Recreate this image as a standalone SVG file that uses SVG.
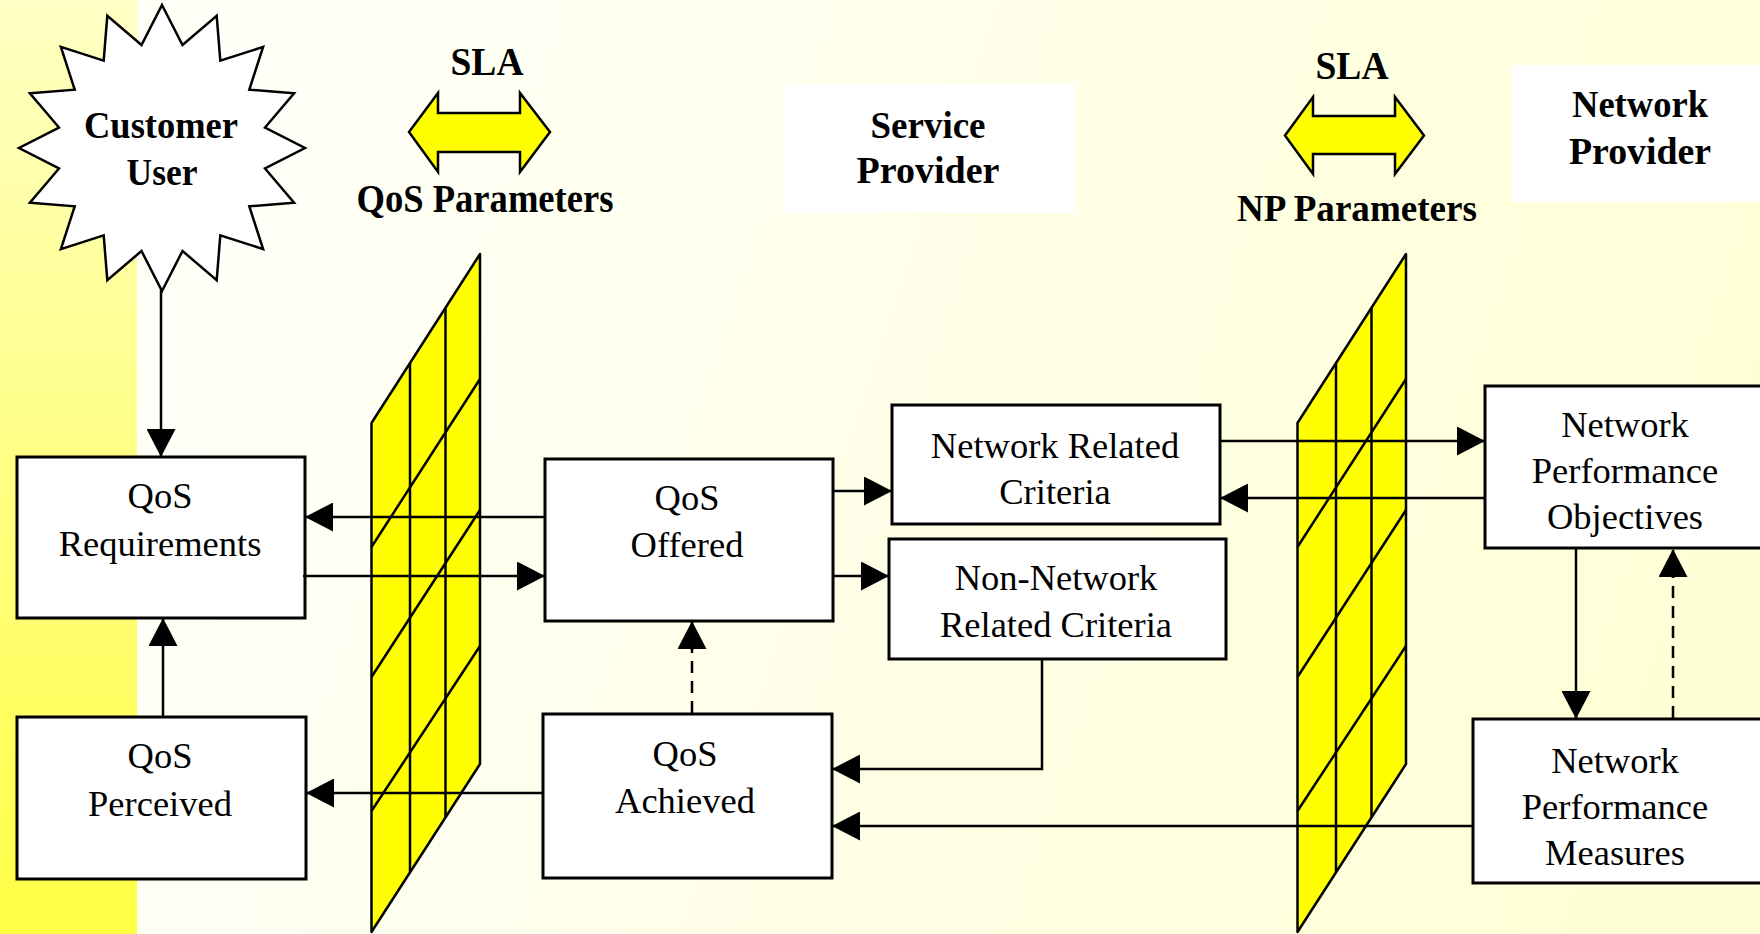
<svg xmlns="http://www.w3.org/2000/svg" width="1760" height="934" viewBox="0 0 1760 934">
<defs>
<linearGradient id="bg" gradientUnits="userSpaceOnUse" x1="300" y1="0" x2="1760" y2="500">
<stop offset="0" stop-color="#FFFFF8"/>
<stop offset="1" stop-color="#FFFFD6"/>
</linearGradient>
<linearGradient id="band" x1="0" y1="0" x2="0" y2="1">
<stop offset="0" stop-color="#FFFFC4"/>
<stop offset="1" stop-color="#FFFF44"/>
</linearGradient>
<marker id="ah" markerUnits="userSpaceOnUse" markerWidth="28" markerHeight="29" viewBox="0 0 28 29" refX="27" refY="14.5" orient="auto">
<path d="M0,0 L28,14.5 L0,29 z" fill="#000"/>
</marker>
<g id="panel">
<polygon points="371.5,423 480,254 480,764 371.5,932" fill="#FFFF00" stroke="#000" stroke-width="2.5" stroke-linejoin="round"/>
<g stroke="#000" stroke-width="2.5" fill="none">
<line x1="410" y1="363" x2="410" y2="872"/>
<line x1="445.5" y1="308" x2="445.5" y2="817"/>
<line x1="371.5" y1="547" x2="480" y2="379"/>
<line x1="371.5" y1="677" x2="480" y2="510"/>
<line x1="371.5" y1="811" x2="480" y2="646"/>
</g>
</g>
</defs>
<style>
.box{fill:#fff;stroke:#000;stroke-width:3}
.t{font-family:"Liberation Serif","Times New Roman",serif;font-size:36.5px;text-anchor:middle;fill:#000}
.b{font-family:"Liberation Serif","Times New Roman",serif;font-weight:bold;text-anchor:middle;fill:#000}
.ln{stroke:#000;stroke-width:2.5;fill:none}
.dash{stroke-dasharray:12 8}
.dbl{fill:#FFFF00;stroke:#000;stroke-width:2.5;stroke-linejoin:miter}
</style>

<rect x="0" y="0" width="1760" height="934" fill="url(#bg)"/>
<rect x="0" y="0" width="137" height="934" fill="url(#band)"/>

<g id="service-provider">
<rect x="783" y="84" width="292" height="129" fill="#fff"/>
<text class="b" font-size="38" x="928" y="138" textLength="115" lengthAdjust="spacingAndGlyphs">Service</text>
<text class="b" font-size="38" x="928" y="183" textLength="143" lengthAdjust="spacingAndGlyphs">Provider</text>
</g>

<g id="network-provider">
<rect x="1511" y="65" width="260" height="137" fill="#fff"/>
<text class="b" font-size="37" x="1640" y="117" textLength="136" lengthAdjust="spacingAndGlyphs">Network</text>
<text class="b" font-size="37" x="1640" y="164" textLength="142" lengthAdjust="spacingAndGlyphs">Provider</text>
</g>

<g id="customer-user">
<polygon points="162,5 182.5,45 216.7,15.9 220.3,60.7 263.1,46.9 249.3,89.7 294.1,93.3 265,127.5 305,148 265,168.5 294.1,202.7 249.3,206.3 263.1,249.1 220.3,235.3 216.7,280.1 182.5,251 162,291 141.5,251 107.3,280.1 103.7,235.3 60.9,249.1 74.7,206.3 29.9,202.7 59,168.5 19,148 59,127.5 29.9,93.3 74.7,89.7 60.9,46.9 103.7,60.7 107.3,15.9 141.5,45" fill="#fff" stroke="#000" stroke-width="2.5" stroke-linejoin="miter"/>
<text class="b" font-size="38" x="161" y="138" textLength="154" lengthAdjust="spacingAndGlyphs">Customer</text>
<text class="b" font-size="38" x="162" y="185" textLength="71" lengthAdjust="spacingAndGlyphs">User</text>
</g>

<g id="sla-qos">
<text class="b" font-size="39" x="487" y="75" textLength="73" lengthAdjust="spacingAndGlyphs">SLA</text>
<polygon class="dbl" points="409,132 438,93 438,113 520,113 520,93 550,132 520,172 520,152 438,152 438,172"/>
<text class="b" font-size="39" x="485" y="212" textLength="257" lengthAdjust="spacingAndGlyphs">QoS Parameters</text>
</g>

<g id="sla-np">
<text class="b" font-size="39" x="1352" y="79" textLength="73" lengthAdjust="spacingAndGlyphs">SLA</text>
<polygon class="dbl" points="1285,135.5 1313,97 1313,116 1395,116 1395,97 1424,135.5 1395,174 1395,154 1313,154 1313,174"/>
<text class="b" font-size="38" x="1357" y="221" textLength="240" lengthAdjust="spacingAndGlyphs">NP Parameters</text>
</g>

<g id="qos-gate">
<use href="#panel"/>
</g>
<g id="np-gate">
<use href="#panel" transform="translate(926,0)"/>
</g>

<g id="qos-requirements">
<rect class="box" x="17" y="457" width="288" height="161"/>
<text class="t" x="160" y="508">QoS</text>
<text class="t" x="160" y="556">Requirements</text>
</g>

<g id="qos-perceived">
<rect class="box" x="17" y="717" width="289" height="162"/>
<text class="t" x="160" y="768">QoS</text>
<text class="t" x="160" y="816">Perceived</text>
</g>

<g id="qos-offered">
<rect class="box" x="545" y="459" width="288" height="162"/>
<text class="t" x="687" y="510">QoS</text>
<text class="t" x="687" y="557">Offered</text>
</g>

<g id="qos-achieved">
<rect class="box" x="543" y="714" width="289" height="164"/>
<text class="t" x="685" y="766">QoS</text>
<text class="t" x="685" y="813">Achieved</text>
</g>

<g id="network-related-criteria">
<rect class="box" x="892" y="405" width="328" height="119"/>
<text class="t" x="1055" y="458">Network Related</text>
<text class="t" x="1055" y="504">Criteria</text>
</g>

<g id="non-network-related-criteria">
<rect class="box" x="889" y="539" width="337" height="120"/>
<text class="t" x="1056" y="590">Non-Network</text>
<text class="t" x="1056" y="637">Related Criteria</text>
</g>

<g id="np-objectives">
<rect class="box" x="1485" y="386" width="290" height="162"/>
<text class="t" x="1625" y="437">Network</text>
<text class="t" x="1625" y="483">Performance</text>
<text class="t" x="1625" y="529">Objectives</text>
</g>

<g id="np-measures">
<rect class="box" x="1473" y="719" width="300" height="164"/>
<text class="t" x="1615" y="773">Network</text>
<text class="t" x="1615" y="819">Performance</text>
<text class="t" x="1615" y="865">Measures</text>
</g>

<g id="connectors">
<line class="ln" x1="161" y1="290" x2="161" y2="456" marker-end="url(#ah)"/>
<line class="ln" x1="163" y1="716" x2="163" y2="619" marker-end="url(#ah)"/>
<line class="ln" x1="545" y1="517" x2="306" y2="517" marker-end="url(#ah)"/>
<line class="ln" x1="303" y1="576" x2="544" y2="576" marker-end="url(#ah)"/>
<line class="ln" x1="833" y1="491" x2="891" y2="491" marker-end="url(#ah)"/>
<line class="ln" x1="833" y1="576" x2="888" y2="576" marker-end="url(#ah)"/>
<line class="ln dash" x1="692" y1="713" x2="692" y2="640"/>
<line class="ln" x1="692" y1="650" x2="692" y2="622" marker-end="url(#ah)"/>
<polyline class="ln" points="1042,659 1042,769 833,769" marker-end="url(#ah)"/>
<line class="ln" x1="1472" y1="826" x2="833" y2="826" marker-end="url(#ah)"/>
<line class="ln" x1="543" y1="793" x2="307" y2="793" marker-end="url(#ah)"/>
<line class="ln" x1="1220" y1="441" x2="1484" y2="441" marker-end="url(#ah)"/>
<line class="ln" x1="1485" y1="498" x2="1221" y2="498" marker-end="url(#ah)"/>
<line class="ln" x1="1576" y1="548" x2="1576" y2="718" marker-end="url(#ah)"/>
<line class="ln dash" x1="1673" y1="718" x2="1673" y2="566"/>
<line class="ln" x1="1673" y1="578" x2="1673" y2="550" marker-end="url(#ah)"/>
</g>
</svg>
